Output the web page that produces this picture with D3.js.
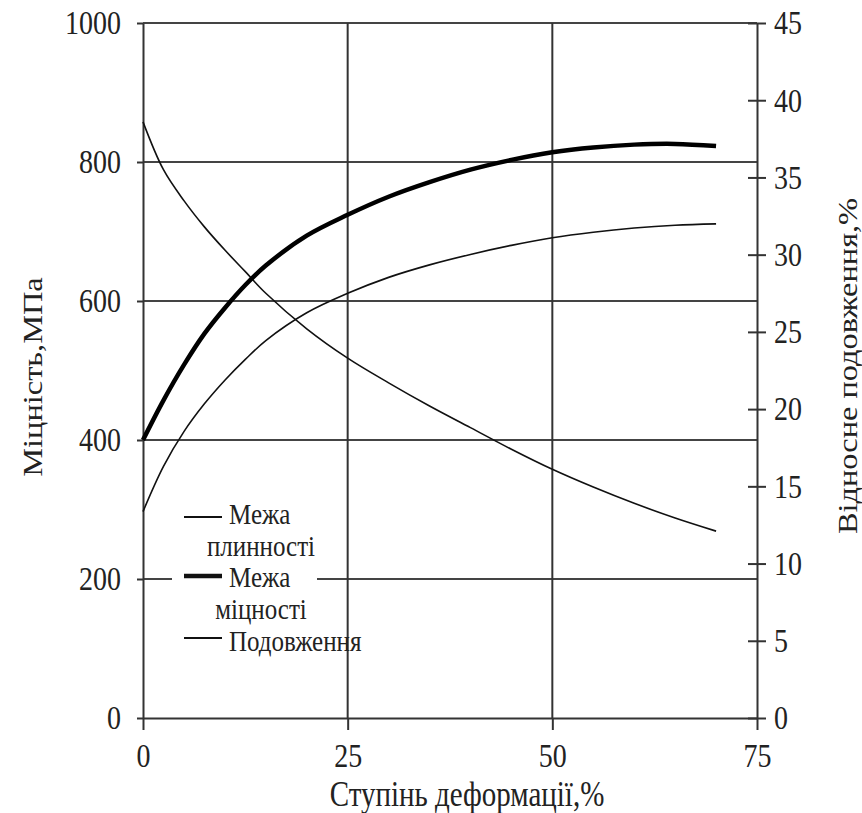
<!DOCTYPE html>
<html>
<head>
<meta charset="utf-8">
<script src="https://cdn.jsdelivr.net/npm/d3@7"></script>
<style>
  body { margin: 0; background: #fff; }
  svg text { font-family: "Liberation Serif", "DejaVu Serif", serif; fill: #222; }
  /* картинка розтягнута по вертикалі */
  .tall { transform-box: fill-box; transform-origin: center; transform: scaleY(1.2); }
</style>
</head>
<body>
<svg id="chart" width="862" height="813"></svg>
<script>
// ступінь деформації, %
var deformation = [0, 2.5, 5, 7.5, 10, 12.5, 15, 20, 25, 30, 35, 40, 45, 50, 55, 60, 65, 70];
// межа плинності, МПа
var yieldStrength = [297, 362, 412, 452, 486, 516, 543, 583, 611, 634, 652, 667, 680, 691, 699, 705, 709, 711];
// межа міцності, МПа
var tensileStrength = [400, 457, 508, 553, 590, 623, 651, 694, 724, 750, 771, 789, 803, 814, 821, 825, 826, 823];
// відносне подовження, %
var elongation = [38.6, 35.5, 33.5, 31.8, 30.3, 28.9, 27.5, 25.2, 23.3, 21.7, 20.2, 18.8, 17.4, 16.1, 14.95, 13.9, 12.95, 12.1];

var xTicks = [0, 25, 50, 75];
var yTicks = [0, 200, 400, 600, 800, 1000];
var y2Ticks = [0, 5, 10, 15, 20, 25, 30, 35, 40, 45];

var legendItems = [
    {lines: ['Межа', 'плинності'], width: 2, y: 517, ty: 522},
    {lines: ['Межа', 'міцності'], width: 4.5, y: 576, ty: 585},
    {lines: ['Подовження'], width: 2, y: 638, ty: 649}
];

var svg = d3.select('#chart');
var plotLeft = 143, plotRight = 757, plotTop = 23, plotBottom = 718;

var x = d3.scaleLinear().domain([0, 75]).range([plotLeft, plotRight]);
var y = d3.scaleLinear().domain([0, 1000]).range([plotBottom, plotTop]);
var y2 = d3.scaleLinear().domain([0, 45]).range([plotBottom, plotTop]);

// сітка
svg.append('g').selectAll('line')
    .data(yTicks.filter(function(d){ return d > 0; }))
    .enter().append('line')
        .attr('x1', plotLeft).attr('x2', plotRight)
        .attr('y1', function(d){ return y(d); })
        .attr('y2', function(d){ return y(d); })
        .attr('stroke', '#444').attr('stroke-width', 2);

svg.append('g').selectAll('line')
    .data([25, 50])
    .enter().append('line')
        .attr('x1', function(d){ return x(d); })
        .attr('x2', function(d){ return x(d); })
        .attr('y1', plotTop).attr('y2', plotBottom)
        .attr('stroke', '#333').attr('stroke-width', 2);

// фон легенди
svg.append('rect')
    .attr('x', 172).attr('y', 495)
    .attr('width', 145).attr('height', 160)
    .attr('fill', '#fff');

// осі
var axisLeft = svg.append('g')
    .attr('transform', 'translate(' + plotLeft + ',0)')
    .call(d3.axisLeft(y).tickValues(yTicks).tickFormat(d3.format('d'))
        .tickSize(6).tickSizeOuter(0).tickPadding(16));

var axisRight = svg.append('g')
    .attr('transform', 'translate(' + plotRight + ',0)')
    .call(d3.axisRight(y2).tickValues(y2Ticks).tickFormat(d3.format('d'))
        .tickSize(9).tickSizeOuter(0).tickPadding(8));
axisRight.selectAll('.tick line').attr('x1', -9);

var axisBottom = svg.append('g')
    .attr('transform', 'translate(0,' + plotBottom + ')')
    .call(d3.axisBottom(x).tickValues(xTicks).tickFormat(d3.format('d'))
        .tickSize(12).tickSizeOuter(0).tickPadding(15));

[axisLeft, axisRight, axisBottom].forEach(function(a){
    a.selectAll('path.domain').attr('stroke', '#333').attr('stroke-width', 2);
    a.selectAll('.tick line').attr('stroke', '#333').attr('stroke-width', 2);
    a.selectAll('.tick text')
        .attr('class', 'tall')
        .style('font-size', '28px').style('fill', '#222')
        .style('font-family', '"Liberation Serif", serif');
});

// криві
var line = function(vals, scale){
    return d3.line()
        .x(function(d, i){ return x(deformation[i]); })
        .y(function(d){ return scale(d); })
        .curve(d3.curveCatmullRom.alpha(0.5))(vals);
};

svg.append('path').attr('d', line(yieldStrength, y))
    .attr('fill', 'none').attr('stroke', '#111').attr('stroke-width', 1.6);
svg.append('path').attr('d', line(elongation, y2))
    .attr('fill', 'none').attr('stroke', '#111').attr('stroke-width', 1.6);
svg.append('path').attr('d', line(tensileStrength, y))
    .attr('fill', 'none').attr('stroke', '#000').attr('stroke-width', 4.5);

// легенда
var leg = svg.append('g').selectAll('g')
    .data(legendItems)
    .enter().append('g');

leg.append('line')
    .attr('x1', 184).attr('x2', 222)
    .attr('y1', function(d){ return d.y; })
    .attr('y2', function(d){ return d.y; })
    .attr('stroke', '#111')
    .attr('stroke-width', function(d){ return d.width; });

leg.append('text')
    .attr('class', 'tall')
    .attr('x', 229)
    .attr('y', function(d){ return d.ty; })
    .style('font-size', '25px')
    .text(function(d){ return d.lines[0]; });

leg.filter(function(d){ return d.lines.length > 1; })
    .append('text')
    .attr('class', 'tall')
    .attr('x', 261)
    .attr('y', function(d){ return d.ty + 32; })
    .attr('text-anchor', 'middle')
    .style('font-size', '25px')
    .text(function(d){ return d.lines[1]; });

// підписи осей
svg.append('text')
    .attr('class', 'tall')
    .attr('x', 467).attr('y', 804)
    .attr('text-anchor', 'middle')
    .style('font-size', '29px')
    .text('Ступінь деформації,%');

svg.append('text')
    .attr('transform', 'translate(42,377) rotate(-90) scale(1.2,1)')
    .attr('text-anchor', 'middle')
    .style('font-size', '27px')
    .text('Міцність,МПа');

svg.append('text')
    .attr('transform', 'translate(857,366) rotate(-90) scale(1.2,1)')
    .attr('text-anchor', 'middle')
    .style('font-size', '27px')
    .text('Відносне подовження,%');
</script>
</body>
</html>
